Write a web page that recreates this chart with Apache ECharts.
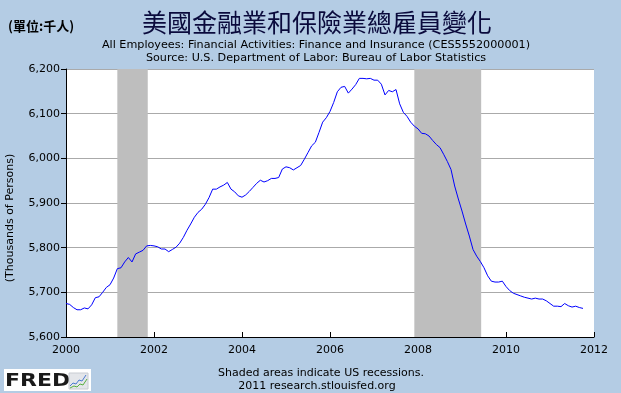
<!DOCTYPE html>
<html>
<head>
<meta charset="utf-8">
<script src="https://cdn.jsdelivr.net/npm/echarts@6/dist/echarts.min.js"></script>
<style>
html,body{margin:0;padding:0;background:#b4cce4;}
#c{width:621px;height:393px;}
</style>
</head>
<body>
<div id="c"></div>
<script>
// Monthly values (thousands of persons), Jan of each year onward
var startYear = 2000;
var v2000 = [5675, 5673, 5666, 5661, 5661, 5665, 5663, 5672, 5688, 5690, 5700, 5711];
var v2001 = [5717, 5732, 5753, 5755, 5768, 5778, 5768, 5786, 5790, 5794, 5804, 5805];
var v2002 = [5804, 5802, 5797, 5797, 5791, 5796, 5801, 5810, 5823, 5839, 5853, 5868];
var v2003 = [5879, 5886, 5897, 5912, 5931, 5931, 5936, 5940, 5946, 5931, 5925, 5916];
var v2004 = [5913, 5918, 5926, 5935, 5944, 5951, 5947, 5950, 5955, 5955, 5957, 5976];
var v2005 = [5981, 5979, 5974, 5979, 5984, 5998, 6013, 6028, 6036, 6058, 6081, 6091];
var v2006 = [6105, 6125, 6149, 6159, 6161, 6146, 6155, 6165, 6179, 6179, 6178, 6179];
var v2007 = [6175, 6175, 6166, 6142, 6152, 6149, 6154, 6122, 6103, 6094, 6081, 6072];
var v2008 = [6066, 6056, 6055, 6050, 6040, 6031, 6024, 6009, 5993, 5975, 5938, 5909];
var v2009 = [5882, 5853, 5826, 5796, 5781, 5769, 5755, 5737, 5725, 5723, 5723, 5725];
var v2010 = [5713, 5704, 5698, 5695, 5692, 5689, 5687, 5685, 5687, 5685, 5685, 5681];
var v2011 = [5675, 5669, 5669, 5668, 5675, 5670, 5667, 5669, 5666, 5664];

var recessions = [['2001-03-01', '2001-11-10'], ['2007-12-01', '2009-06-08']];
var xTicks = [2000, 2002, 2004, 2006, 2008, 2010, 2012];
var yTicks = [5600, 5700, 5800, 5900, 6000, 6100, 6200];

var years = [v2000, v2001, v2002, v2003, v2004, v2005, v2006, v2007, v2008, v2009, v2010, v2011];
var data = [];
years.forEach(function (arr, yi) {
  arr.forEach(function (v, mi) {
    data.push([startYear + yi + mi / 12, v]);
  });
});
function toYear(s) {
  var p = s.split('-').map(Number);
  return p[0] + (p[1] - 1) / 12 + (p[2] - 1) / 365;
}
var areas = recessions.map(function (r) {
  return [{ xAxis: toYear(r[0]) }, { xAxis: toYear(r[1]) }];
});

var font = 'DejaVu Sans';
var chart = echarts.init(document.getElementById('c'));
chart.setOption({
  backgroundColor: '#b4cce4',
  animation: false,
  grid: { left: 66, right: 27, top: 69, bottom: 56, show: true, backgroundColor: '#ffffff', borderWidth: 0 },
  xAxis: {
    type: 'value',
    min: xTicks[0], max: xTicks[xTicks.length - 1], interval: 2,
    axisLine: { show: true, lineStyle: { color: '#000', width: 1 } },
    axisTick: { show: true, inside: true, length: 5, lineStyle: { color: '#000' } },
    splitLine: { show: false },
    axisLabel: { color: '#000', fontFamily: font, fontSize: 11, margin: 8,
      formatter: function (v) { return String(v); } }
  },
  yAxis: {
    type: 'value',
    min: yTicks[0], max: yTicks[yTicks.length - 1], interval: 100,
    axisLine: { show: true, lineStyle: { color: '#000', width: 1 } },
    axisTick: { show: true, inside: false, length: 5, lineStyle: { color: '#000' } },
    splitLine: { show: true, lineStyle: { color: '#aaaaaa', width: 1 } },
    axisLabel: { color: '#000', fontFamily: font, fontSize: 11, margin: 6, padding: [6, 0, 0, 0],
      formatter: function (v) { return v.toLocaleString('en-US'); } }
  },
  series: [{
    type: 'line',
    data: data,
    showSymbol: false,
    symbol: 'none',
    lineStyle: { color: '#0000ff', width: 1 },
    markArea: { silent: true, itemStyle: { color: '#bebebe', opacity: 1 }, data: areas },
    z: 3
  }],
  graphic: [
    { type: 'text', left: 8, top: 20, style: { text: '(單位:千人)', fontFamily: 'Noto Sans CJK TC', fontWeight: 'bold', fontSize: 13, fill: '#000' } },
    { type: 'text', x: 317, y: 22, style: { text: '美國金融業和保險業總雇員變化', fontFamily: 'Noto Sans CJK TC', fontSize: 25, fill: '#0a0a3c', align: 'center', verticalAlign: 'middle' } },
    { type: 'text', x: 316, y: 45, style: { text: 'All Employees: Financial Activities: Finance and Insurance (CES5552000001)', fontFamily: font, fontSize: 11.2, fill: '#000', align: 'center', verticalAlign: 'middle' } },
    { type: 'text', x: 316, y: 58, style: { text: 'Source: U.S. Department of Labor: Bureau of Labor Statistics', fontFamily: font, fontSize: 11.2, fill: '#000', align: 'center', verticalAlign: 'middle' } },
    { type: 'text', x: 10, y: 218, rotation: Math.PI / 2, style: { text: '(Thousands of Persons)', fontFamily: font, fontSize: 11, fill: '#000', align: 'center', verticalAlign: 'middle' } },
    { type: 'text', x: 321, y: 373, style: { text: 'Shaded areas indicate US recessions.', fontFamily: font, fontSize: 11, fill: '#000', align: 'center', verticalAlign: 'middle' } },
    { type: 'text', x: 317, y: 386, style: { text: '2011 research.stlouisfed.org', fontFamily: font, fontSize: 11, fill: '#000', align: 'center', verticalAlign: 'middle' } },
    { type: 'rect', shape: { x: 4, y: 369, width: 87, height: 22 }, style: { fill: '#ffffff' } },
    { type: 'text', x: 5, y: 381, scaleX: 1.22, style: { text: 'FRED', fontFamily: 'DejaVu Sans', fontWeight: 'bold', fontSize: 18, fill: '#1a1a1a', verticalAlign: 'middle' } },
    { type: 'rect', shape: { x: 69, y: 373, width: 19, height: 16 }, style: { fill: '#e4e6ea', stroke: '#c8ccd2', lineWidth: 1 } },
    { type: 'polyline', shape: { points: [[70, 386], [73, 383], [76, 384], [79, 380], [82, 381], [86, 375]] }, style: { stroke: '#4a7ad0', lineWidth: 1, fill: null } },
    { type: 'polyline', shape: { points: [[70, 388], [74, 386], [77, 387], [80, 384], [83, 385], [87, 379]] }, style: { stroke: '#58b040', lineWidth: 1, fill: null } }
  ]
});
</script>
</body>
</html>
